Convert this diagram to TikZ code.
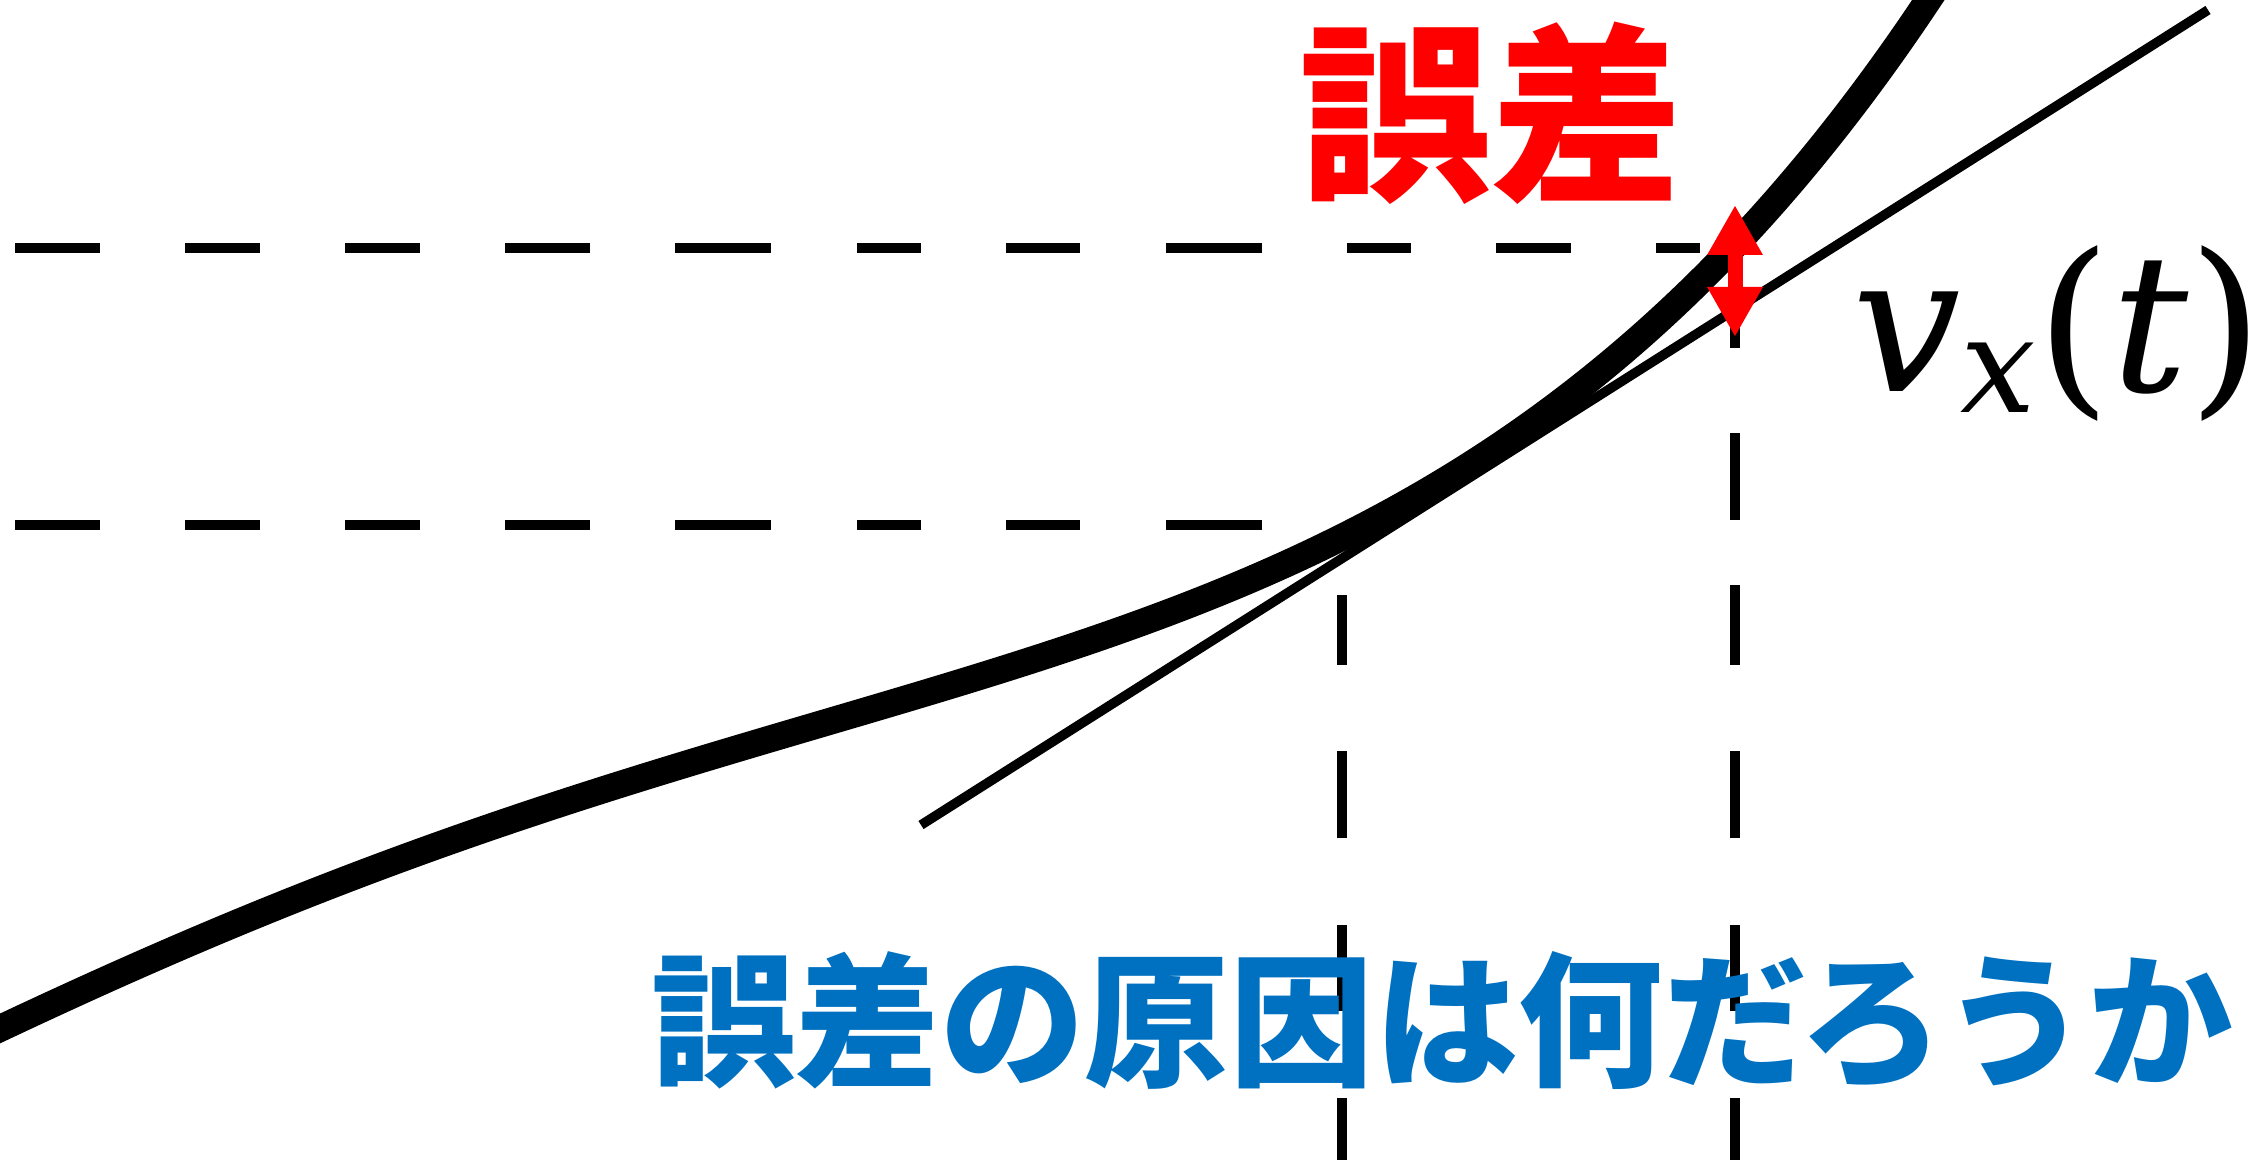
\documentclass[tikz,border=0pt]{standalone}
\usepackage{fontspec}
\usetikzlibrary{arrows.meta}
\newfontfamily\cjk{Noto Sans CJK JP}
\newfontfamily\lblfont{DejaVu Serif}
\definecolor{errred}{RGB}{255,0,0}
\definecolor{qblue}{RGB}{0,112,192}
\tikzset{
  guide/.style={line width=5pt, line cap=butt, black},
  truecurve/.style={line width=13.5pt, line join=round, black},
  tangentline/.style={line width=4.8pt, black},
  errarrow/.style={errred, line width=7.5pt, {Triangle[width=26pt,length=25pt]}-{Triangle[width=26pt,length=25pt]}},
}
\begin{document}
\begin{tikzpicture}[x=0.5pt,y=-0.5pt]
\useasboundingbox (0,0) rectangle (2265,1160);
\clip (0,0) rectangle (2265,1160);
% horizontal guides
\foreach \a/\b in {15/100,185/260,345/420,505/590,675/771,857/921,1006/1080,1166/1262,1347/1411,1496/1571,1656/1700}
  \draw[guide] (\a,248) -- (\b,248);
\foreach \a/\b in {15/100,185/260,345/420,505/590,675/771,857/921,1006/1080,1166/1262}
  \draw[guide] (\a,525) -- (\b,525);
% vertical guides
\foreach \a/\b in {595/665,751/838,925/1011,1098/1170}
  \draw[guide] (1342,\a) -- (1342,\b);
\foreach \a/\b in {300/348,433/520,585/665,751/838,925/1011,1098/1170}
  \draw[guide] (1735,\a) -- (1735,\b);
% true curve
\draw[truecurve] plot[domain=-0.03:1.37, samples=120, smooth, variable=\u]
  ({1444.5*\u},{1.4445*(712-471.5*\u+126.6*\u*\u+250.2*\u*\u*\u-284.47*\u*\u*\u*\u)});
% tangent line
\coordinate (tanstart) at (921,825);
\coordinate (tanend) at (2208,10);
\draw[tangentline] (tanstart) -- (tanend);
% error arrow
\coordinate (errtop) at (1735,205);
\coordinate (errbot) at (1735,337);
\draw[errarrow] (errtop) -- (errbot);
% labels
\node[inner sep=0, anchor=center, text=errred, font={\cjk\bfseries\fontsize{96pt}{100pt}\selectfont}] (errlabel) at (1491,113) {誤差};
\node[inner sep=0, anchor=center, text=qblue, font={\cjk\bfseries\fontsize{72.3pt}{76pt}\selectfont}] (question) at (1442,1021) {誤差の原因は何だろうか};
\node[inner sep=0, anchor=base west, font={\lblfont\fontsize{96pt}{100pt}\selectfont}] (vlabel) at (1852,392) {\textit{v}\raisebox{-10.5pt}{\fontsize{67pt}{70pt}\selectfont\textit{x}}(\textit{t})};
\end{tikzpicture}
\end{document}
